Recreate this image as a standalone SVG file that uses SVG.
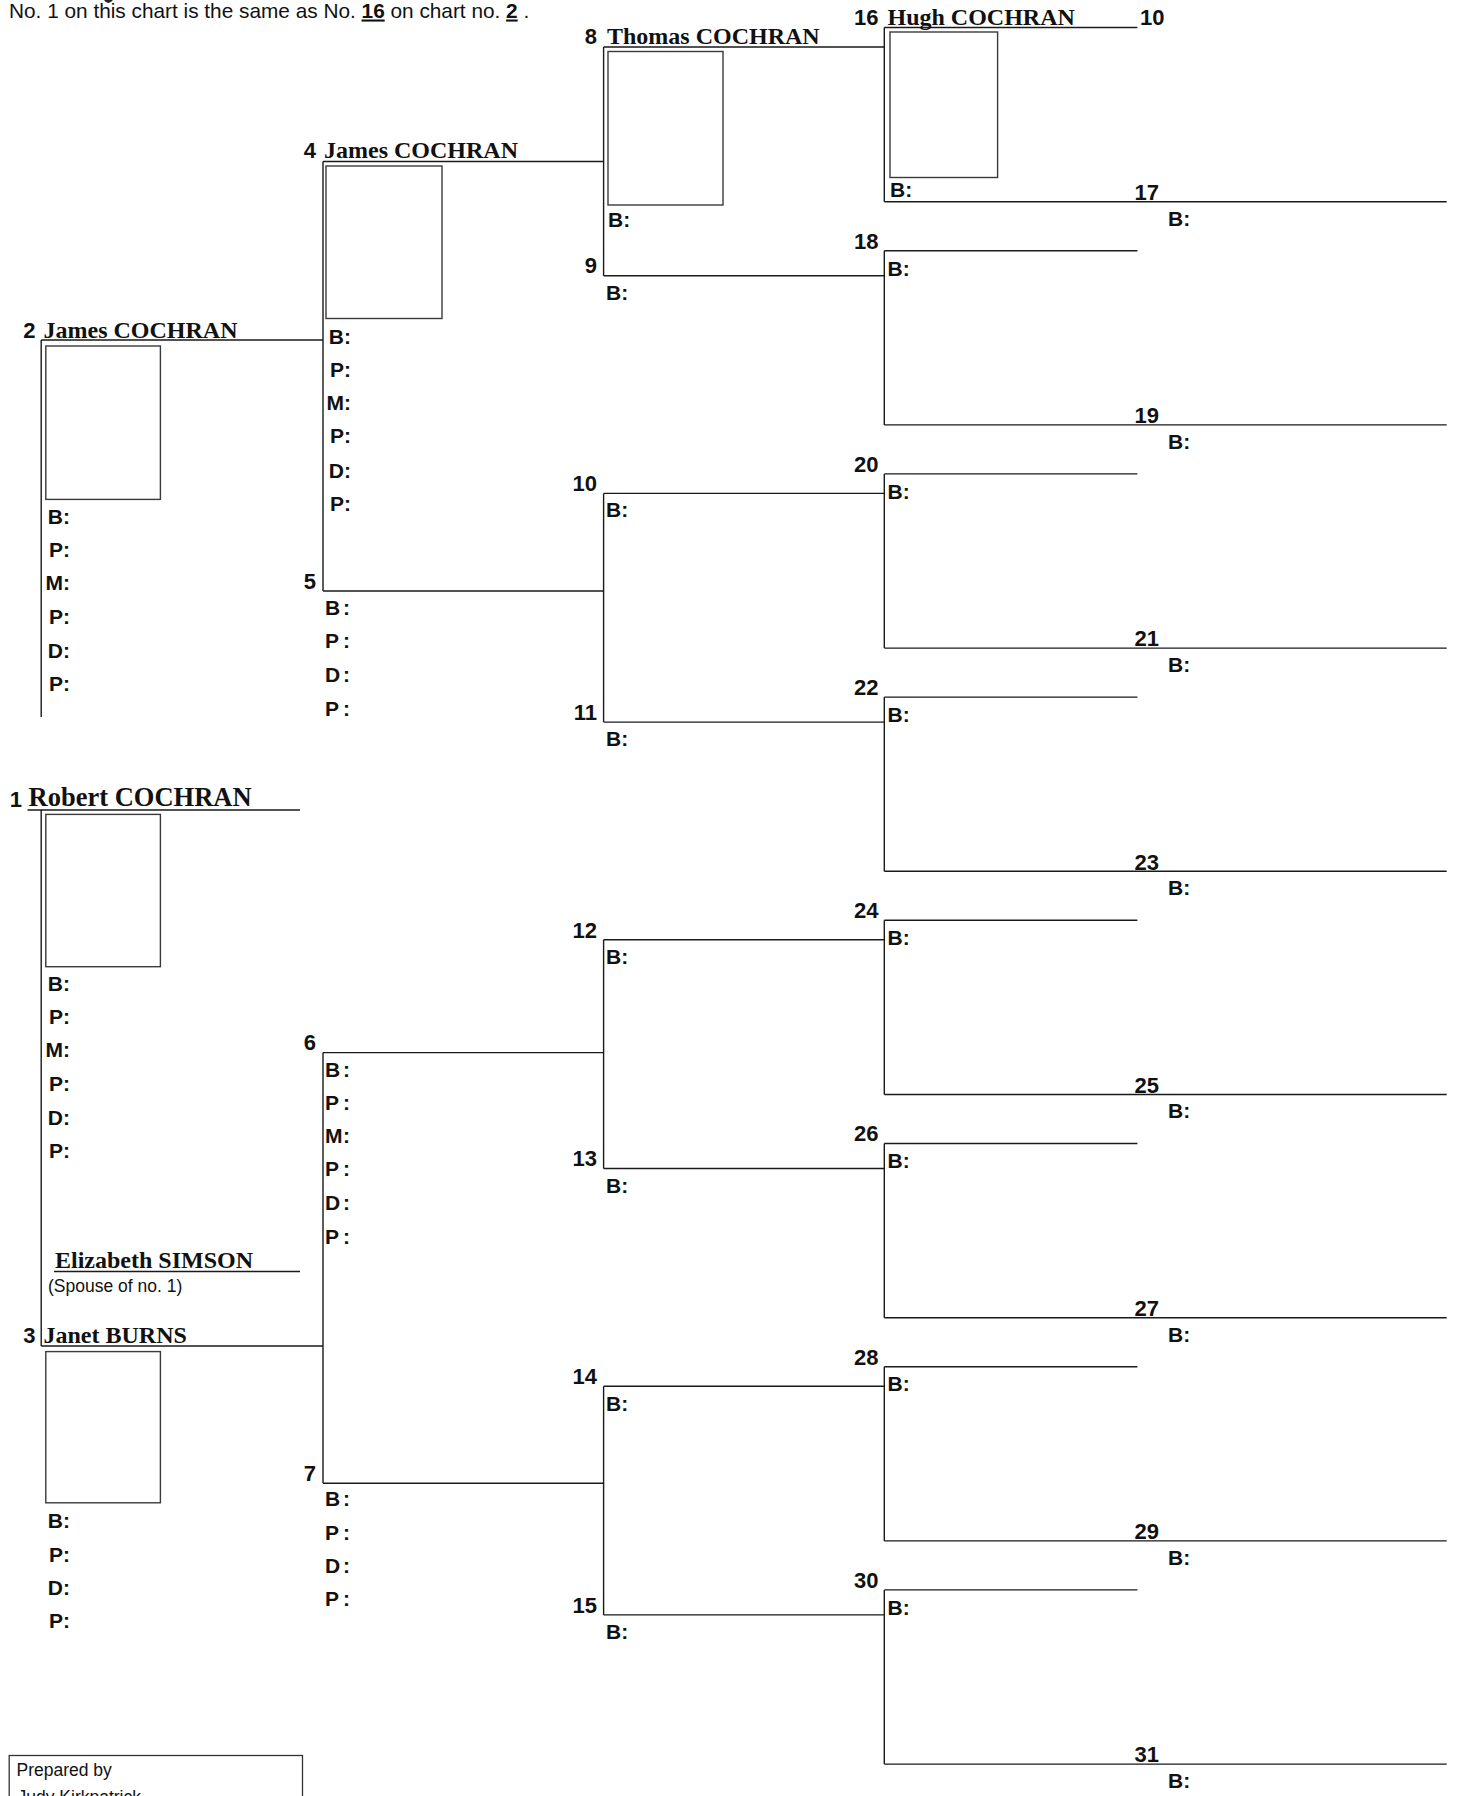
<svg xmlns="http://www.w3.org/2000/svg" width="1457" height="1796" viewBox="0 0 1457 1796">
<style>
.ln{stroke:#1a1a1a;stroke-width:1.4;fill:none}
.ph{fill:none;stroke:#3a3a3a;stroke-width:1.4}
.num{font-family:"Liberation Sans",Arial,sans-serif;font-weight:bold;font-size:22px;fill:#111}
.lab{font-family:"Liberation Sans",Arial,sans-serif;font-weight:bold;font-size:21px;fill:#111}
.nm{font-family:"Liberation Serif","Times New Roman",serif;font-weight:bold;font-size:24px;fill:#111}
.big{font-size:26.5px}
.hd{font-family:"Liberation Sans",Arial,sans-serif;font-size:20.8px;fill:#111}
.sm{font-family:"Liberation Sans",Arial,sans-serif;font-size:17.5px;fill:#111}
.e{text-anchor:end}
</style>
<rect width="1457" height="1796" fill="#fff"/>
<g id="header">
<text class="hd" x="9" y="17.5">No. 1 on this chart is the same as No. <tspan font-weight="bold" text-decoration="underline">16</tspan> on chart no. <tspan font-weight="bold" text-decoration="underline">2</tspan> .</text>
<path d="M104 0 Q108 6 113 0 Z" fill="#222"/>
<text class="num" x="1140" y="25">10</text>
</g>
<g id="connectors" class="ln">
<path d="M884.3 27.5H1137.4M884.3 27.5V201.7M884.3 201.7H1446.7"/>
<path d="M884.3 250.7H1137.4M884.3 250.7V424.9M884.3 424.9H1446.7"/>
<path d="M884.3 473.9H1137.4M884.3 473.9V648.1M884.3 648.1H1446.7"/>
<path d="M884.3 697.1H1137.4M884.3 697.1V871.3M884.3 871.3H1446.7"/>
<path d="M884.3 920.3H1137.4M884.3 920.3V1094.5M884.3 1094.5H1446.7"/>
<path d="M884.3 1143.5H1137.4M884.3 1143.5V1317.7M884.3 1317.7H1446.7"/>
<path d="M884.3 1366.7H1137.4M884.3 1366.7V1540.9M884.3 1540.9H1446.7"/>
<path d="M884.3 1589.9H1137.4M884.3 1589.9V1764.1M884.3 1764.1H1446.7"/>
<path d="M603.6 47H884.3M603.6 47V275.7M603.6 275.7H884.3"/>
<path d="M603.6 493.4H884.3M603.6 493.4V722.1M603.6 722.1H884.3"/>
<path d="M603.6 939.8H884.3M603.6 939.8V1168.5M603.6 1168.5H884.3"/>
<path d="M603.6 1386.2H884.3M603.6 1386.2V1614.9M603.6 1614.9H884.3"/>
<path d="M323 161.5H603.6M323 161.5V591M323 591H603.6"/>
<path d="M323 1052.6H603.6M323 1052.6V1483.3M323 1483.3H603.6"/>
<path d="M41.2 340H323M41.2 340V717"/>
<path d="M27.5 810H300M41.2 810V1346M41.2 1346H323"/>
</g>
<g id="p1">
<text class="num e" x="22" y="807">1</text>
<text class="nm big" x="28.6" y="806">Robert COCHRAN</text>
<rect class="ph" x="45.8" y="814.4" width="114.6" height="152.3"/>
<text class="lab e" x="70" y="990.8">B:</text>
<text class="lab e" x="70" y="1024">P:</text>
<text class="lab e" x="70" y="1057.2">M:</text>
<text class="lab e" x="70" y="1090.5">P:</text>
<text class="lab e" x="70" y="1124.8">D:</text>
<text class="lab e" x="70" y="1158">P:</text>
</g>
<g id="spouse">
<text class="nm" x="55" y="1268">Elizabeth SIMSON</text>
<line class="ln" x1="54" y1="1271.5" x2="300" y2="1271.5"/>
<text class="sm" x="48" y="1292">(Spouse of no. 1)</text>
</g>
<g id="p2">
<text class="num e" x="35.5" y="337.5">2</text>
<text class="nm" x="43.5" y="337.5">James COCHRAN</text>
<rect class="ph" x="45.8" y="346" width="114.6" height="153.4"/>
<text class="lab e" x="70" y="523.5">B:</text>
<text class="lab e" x="70" y="556.7">P:</text>
<text class="lab e" x="70" y="590">M:</text>
<text class="lab e" x="70" y="624">P:</text>
<text class="lab e" x="70" y="657.5">D:</text>
<text class="lab e" x="70" y="690.7">P:</text>
</g>
<g id="p3">
<text class="num e" x="35.5" y="1343">3</text>
<text class="nm" x="43.5" y="1343">Janet BURNS</text>
<rect class="ph" x="45.8" y="1351.6" width="114.6" height="151.2"/>
<text class="lab e" x="70" y="1528">B:</text>
<text class="lab e" x="70" y="1561.5">P:</text>
<text class="lab e" x="70" y="1595">D:</text>
<text class="lab e" x="70" y="1628">P:</text>
</g>
<g id="p4">
<text class="num e" x="316" y="158">4</text>
<text class="nm" x="324" y="158">James COCHRAN</text>
<rect class="ph" x="326" y="166" width="116" height="152.5"/>
<text class="lab e" x="351" y="343.6">B:</text>
<text class="lab e" x="351" y="376.8">P:</text>
<text class="lab e" x="351" y="410">M:</text>
<text class="lab e" x="351" y="443.3">P:</text>
<text class="lab e" x="351" y="477.6">D:</text>
<text class="lab e" x="351" y="510.8">P:</text>
</g>
<g id="p5">
<text class="num e" x="316" y="589">5</text>
<text class="lab" y="615"><tspan x="325">B</tspan><tspan x="343">:</tspan></text>
<text class="lab" y="648.3"><tspan x="325">P</tspan><tspan x="343">:</tspan></text>
<text class="lab" y="681.5"><tspan x="325">D</tspan><tspan x="343">:</tspan></text>
<text class="lab" y="716"><tspan x="325">P</tspan><tspan x="343">:</tspan></text>
</g>
<g id="p6">
<text class="num e" x="316" y="1050">6</text>
<text class="lab" y="1076.7"><tspan x="325">B</tspan><tspan x="343">:</tspan></text>
<text class="lab" y="1110"><tspan x="325">P</tspan><tspan x="343">:</tspan></text>
<text class="lab" y="1143.2"><tspan x="325">M</tspan><tspan x="343">:</tspan></text>
<text class="lab" y="1176.3"><tspan x="325">P</tspan><tspan x="343">:</tspan></text>
<text class="lab" y="1209.6"><tspan x="325">D</tspan><tspan x="343">:</tspan></text>
<text class="lab" y="1244"><tspan x="325">P</tspan><tspan x="343">:</tspan></text>
</g>
<g id="p7">
<text class="num e" x="316" y="1481">7</text>
<text class="lab" y="1506"><tspan x="325">B</tspan><tspan x="343">:</tspan></text>
<text class="lab" y="1539.5"><tspan x="325">P</tspan><tspan x="343">:</tspan></text>
<text class="lab" y="1572.6"><tspan x="325">D</tspan><tspan x="343">:</tspan></text>
<text class="lab" y="1606"><tspan x="325">P</tspan><tspan x="343">:</tspan></text>
</g>
<g id="p8">
<text class="num e" x="597" y="43.5">8</text>
<text class="nm" x="607" y="43.5">Thomas COCHRAN</text>
<rect class="ph" x="608" y="51.5" width="115" height="153.5"/>
<text class="lab" x="608" y="227">B:</text>
</g>
<g id="p9"><text class="num e" x="597" y="273">9</text><text class="lab" x="606" y="299.5">B:</text></g>
<g id="p10"><text class="num e" x="597" y="491">10</text><text class="lab" x="606" y="517">B:</text></g>
<g id="p11"><text class="num e" x="597" y="719.5">11</text><text class="lab" x="606" y="746">B:</text></g>
<g id="p12"><text class="num e" x="597" y="937.5">12</text><text class="lab" x="606" y="963.5">B:</text></g>
<g id="p13"><text class="num e" x="597" y="1166">13</text><text class="lab" x="606" y="1192.5">B:</text></g>
<g id="p14"><text class="num e" x="597" y="1384">14</text><text class="lab" x="606" y="1410.5">B:</text></g>
<g id="p15"><text class="num e" x="597" y="1612.5">15</text><text class="lab" x="606" y="1639">B:</text></g>
<g id="p16">
<text class="num e" x="878.5" y="24.5">16</text>
<text class="nm" x="887.5" y="24.5">Hugh COCHRAN</text>
<rect class="ph" x="890" y="32" width="107.6" height="145.5"/>
<text class="lab" x="890" y="197">B:</text>
</g>
<g id="p18"><text class="num e" x="878.5" y="248.5">18</text><text class="lab" x="887.5" y="275.5">B:</text></g>
<g id="p20"><text class="num e" x="878.5" y="471.7">20</text><text class="lab" x="887.5" y="498.5">B:</text></g>
<g id="p22"><text class="num e" x="878.5" y="694.9">22</text><text class="lab" x="887.5" y="721.7">B:</text></g>
<g id="p24"><text class="num e" x="878.5" y="918.1">24</text><text class="lab" x="887.5" y="944.9">B:</text></g>
<g id="p26"><text class="num e" x="878.5" y="1141.3">26</text><text class="lab" x="887.5" y="1168.1">B:</text></g>
<g id="p28"><text class="num e" x="878.5" y="1364.5">28</text><text class="lab" x="887.5" y="1391.3">B:</text></g>
<g id="p30"><text class="num e" x="878.5" y="1587.7">30</text><text class="lab" x="887.5" y="1614.5">B:</text></g>
<g id="p17"><text class="num" x="1134.5" y="200">17</text><text class="lab" x="1168" y="225.5">B:</text></g>
<g id="p19"><text class="num" x="1134.5" y="423.2">19</text><text class="lab" x="1168" y="448.7">B:</text></g>
<g id="p21"><text class="num" x="1134.5" y="646.4">21</text><text class="lab" x="1168" y="671.9">B:</text></g>
<g id="p23"><text class="num" x="1134.5" y="869.6">23</text><text class="lab" x="1168" y="895.1">B:</text></g>
<g id="p25"><text class="num" x="1134.5" y="1092.8">25</text><text class="lab" x="1168" y="1118.3">B:</text></g>
<g id="p27"><text class="num" x="1134.5" y="1316">27</text><text class="lab" x="1168" y="1341.5">B:</text></g>
<g id="p29"><text class="num" x="1134.5" y="1539.2">29</text><text class="lab" x="1168" y="1564.7">B:</text></g>
<g id="p31"><text class="num" x="1134.5" y="1762.4">31</text><text class="lab" x="1168" y="1787.9">B:</text></g>
<g id="prepared">
<rect x="9.2" y="1755.5" width="293.3" height="70" fill="none" stroke="#333" stroke-width="1.3"/>
<text class="sm" x="16.5" y="1776">Prepared by</text>
<text class="sm" x="17.5" y="1803">Judy Kirkpatrick</text>
</g>
</svg>
